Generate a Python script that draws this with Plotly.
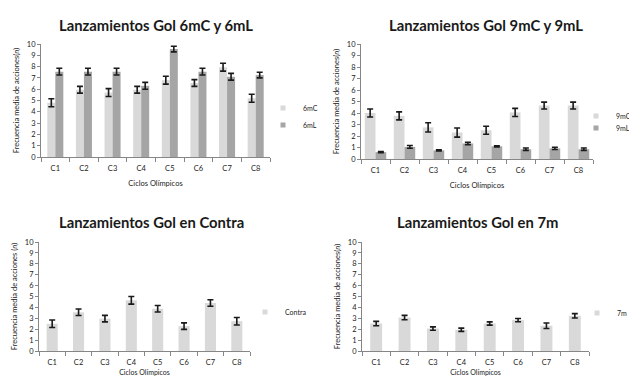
import plotly.graph_objects as go

categories = ["C1", "C2", "C3", "C4", "C5", "C6", "C7", "C8"]

v6mC = [4.8, 5.95, 5.7, 5.95, 6.8, 6.55, 7.95, 5.2]
e6mC = [0.35, 0.3, 0.35, 0.3, 0.35, 0.3, 0.35, 0.35]
v6mL = [7.55, 7.55, 7.55, 6.3, 9.55, 7.55, 7.1, 7.25]
e6mL = [0.3, 0.3, 0.3, 0.3, 0.25, 0.3, 0.3, 0.25]

v9mC = [4.0, 3.75, 2.75, 2.3, 2.5, 4.05, 4.65, 4.65]
e9mC = [0.35, 0.35, 0.4, 0.4, 0.35, 0.35, 0.3, 0.3]
v9mL = [0.6, 1.05, 0.75, 1.35, 1.1, 0.85, 0.92, 0.85]
e9mL = [0.05, 0.12, 0.05, 0.1, 0.05, 0.1, 0.1, 0.1]

vContra = [2.5, 3.55, 2.97, 4.65, 3.88, 2.28, 4.4, 2.73]
eContra = [0.35, 0.3, 0.3, 0.35, 0.3, 0.3, 0.3, 0.35]

v7m = [2.52, 3.07, 2.06, 1.95, 2.52, 2.83, 2.32, 3.23]
e7m = [0.2, 0.2, 0.15, 0.15, 0.15, 0.15, 0.25, 0.2]

titles = ["Lanzamientos Gol 6mC y 6mL", "Lanzamientos Gol 9mC y 9mL",
          "Lanzamientos Gol en Contra", "Lanzamientos Gol en 7m"]
ytitles = ["Frecuencia media de acciones(<i>n</i>)", "Frecuencia media de acciones(<i>n</i>)",
           "Frecuencia media de acciones (<i>n</i>)", "Frecuencia media de acciones(<i>n</i>)"]
xtitle = "Ciclos Olímpicos"

W, H = 629, 377
LIGHT = "#d9d9d9"
DARK = "#a5a5a5"
FONT = "Lato"
TXT = "#222222"


def px(x):
    return x / W


def py(y):
    return 1 - y / H


fig = go.Figure()


def add_bar(x, y, err, color, xa, ya, width, offset):
    fig.add_trace(go.Bar(
        x=x, y=y, xaxis=xa, yaxis=ya, marker=dict(color=color, line=dict(width=0)),
        width=width, offset=offset, showlegend=False, hoverinfo="skip",
        error_y=dict(type="data", array=err, color="#1a1a1a", thickness=1.6, width=3),
    ))


def add_legend_item(name, color, legend):
    fig.add_trace(go.Scatter(
        x=[None], y=[None], mode="markers", name=name, legend=legend,
        marker=dict(symbol="square", size=5, color=color), xaxis="x", yaxis="y",
    ))


add_bar(categories, v6mC, e6mC, LIGHT, "x", "y", 0.28, -0.28)
add_bar(categories, v6mL, e6mL, DARK, "x", "y", 0.28, 0.0)
add_bar(categories, v9mC, e9mC, LIGHT, "x2", "y2", 0.37, -0.37)
add_bar(categories, v9mL, e9mL, DARK, "x2", "y2", 0.37, 0.0)
add_bar(categories, vContra, eContra, LIGHT, "x3", "y3", 0.42, -0.21)
add_bar(categories, v7m, e7m, LIGHT, "x4", "y4", 0.42, -0.21)

add_legend_item("6mC", LIGHT, "legend")
add_legend_item("6mL", DARK, "legend2")
add_legend_item("9mC", LIGHT, "legend3")
add_legend_item("9mL", DARK, "legend4")
add_legend_item("Contra", LIGHT, "legend5")
add_legend_item("7m", LIGHT, "legend6")

# axes pixel boxes: (x0, x1, ybottom, ytop)
boxes = [(41, 270, 157, 44), (361, 593, 159, 44), (39, 250, 351, 242), (362, 589, 351, 242)]
xstandoff = [8, 8, 4, 4]

layout = dict(
    width=W, height=H,
    margin=dict(l=0, r=0, t=0, b=0, autoexpand=False),
    paper_bgcolor="white", plot_bgcolor="white",
    font=dict(family=FONT, size=7, color=TXT),
    barmode="overlay",
)

for i, (x0, x1, yb, yt) in enumerate(boxes):
    s = "" if i == 0 else str(i + 1)
    layout["xaxis" + s] = dict(
        domain=[px(x0), px(x1)], anchor="y" + s, type="category",
        showline=True, linecolor="#868686", linewidth=1,
        ticks="outside", tickson="boundaries", ticklen=4, tickcolor="#868686",
        tickfont=dict(size=7.5, color=TXT), showgrid=False, ticklabelstandoff=4,
        title=dict(text=xtitle, font=dict(size=7.5 if i < 2 else 7, color=TXT),
                   standoff=xstandoff[i]),
    )
    layout["yaxis" + s] = dict(
        domain=[py(yb), py(yt)], anchor="x" + s, range=[0, 10], dtick=1,
        showline=True, linecolor="#868686", linewidth=1,
        ticks="outside", ticklen=3, tickcolor="#868686",
        tickfont=dict(size=7.5, color=TXT), showgrid=False, zeroline=False,
        title=dict(text=ytitles[i], font=dict(size=7.5, color=TXT), standoff=6),
    )

title_pos = [(156, 25), (486, 25), (151, 222), (477, 222)]
annotations = []
for t, (cx, cy) in zip(titles, title_pos):
    annotations.append(dict(
        text="<b>" + t + "</b>", x=px(cx), y=py(cy), xref="paper", yref="paper",
        showarrow=False, xanchor="center", yanchor="middle",
        font=dict(family=FONT, size=14.8, color="#1a1a1a"),
    ))
layout["annotations"] = annotations

# legend symbol centres (pixels)
legend_pos = [(283, 108), (283, 125), (596, 116), (596, 128), (265, 312), (597, 313)]
for i, (lx, ly) in enumerate(legend_pos):
    key = "legend" if i == 0 else "legend" + str(i + 1)
    layout[key] = dict(
        x=px(lx - 20), y=py(ly), xanchor="left", yanchor="middle",
        xref="paper", yref="paper", bgcolor="rgba(0,0,0,0)",
        font=dict(size=7, color=TXT), itemwidth=30,
    )

fig.update_layout(**layout)
fig.write_html("out.html", config={"displayModeBar": False},
               post_script="document.body.style.margin='0';")
